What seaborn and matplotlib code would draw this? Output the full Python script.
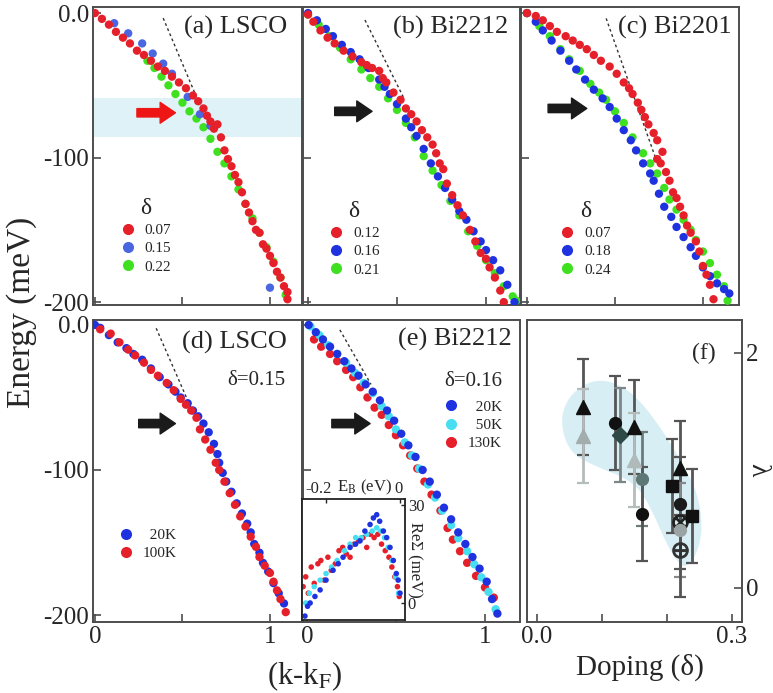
import numpy as np
import pandas as pd
import matplotlib
matplotlib.use("Agg")
import matplotlib.pyplot as plt
import seaborn as sns
from matplotlib.lines import Line2D
from matplotlib.patches import Polygon

# ------------------------------------------
# Data
# ------------------------------------------
# (a) LSCO, doping series
a_k_007 = [0.00, 0.04, 0.08, 0.12, 0.16, 0.20, 0.24, 0.28, 0.32, 0.36, 0.40, 0.44, 0.48, 0.52,
           0.56, 0.59, 0.62, 0.64, 0.66, 0.68, 0.70, 0.72, 0.74, 0.76, 0.78, 0.80, 0.82, 0.84,
           0.86, 0.88, 0.90, 0.92, 0.94, 0.96, 0.98, 1.00, 1.02, 1.04, 1.06, 1.08, 1.10, 1.10]
a_E_007 = [0, -4, -8, -13, -17, -21, -26, -29, -33, -37, -40, -44, -48, -52,
           -57, -61, -66, -71, -75, -80, -77, -86, -95, -101, -106, -112, -117, -124,
           -132, -138, -144, -150, -152, -160, -163, -168, -173, -179, -183, -189, -193, -198]
a_k_015 = [0.11, 0.19, 0.27, 0.33, 0.39, 0.44, 0.53, 0.60, 0.66, 1.00]
a_E_015 = [-7, -14, -21, -28, -35, -42, -58, -70, -78, -190]
a_k_022 = [0.30, 0.34, 0.38, 0.42, 0.46, 0.50, 0.54, 0.58, 0.62, 0.66, 0.70, 0.74, 0.78, 0.82,
           0.86, 0.90, 0.94, 0.98, 1.02, 1.06, 1.09]
a_E_022 = [-33, -38, -44, -50, -56, -62, -68, -73, -79, -87, -96, -104, -113, -122,
           -132, -142, -152, -162, -172, -183, -195]
a_dash_k = [0.39, 0.58]
a_dash_E = [-3.5, -58]
a_arrow_k = [0.24, 0.46]
a_arrow_E = -69
a_band_E = [-86, -59]

# (b) Bi2212, doping series
b_k_012 = [0.00, 0.03, 0.07, 0.11, 0.15, 0.20, 0.25, 0.30, 0.33, 0.36, 0.40, 0.42, 0.44, 0.48,
           0.52, 0.55, 0.58, 0.61, 0.64, 0.67, 0.70, 0.72, 0.74, 0.76, 0.78, 0.81, 0.84, 0.87,
           0.91, 0.94, 0.97, 1.00, 1.02, 1.05, 1.08, 1.10]
b_E_012 = [-1, -6, -12, -17, -21, -26, -30, -34, -36, -38, -40, -45, -48, -55,
           -60, -66, -70, -75, -81, -86, -91, -97, -104, -108, -118, -126, -133, -140,
           -150, -158, -166, -170, -176, -183, -192, -200]
b_k_016 = [0.00, 0.05, 0.10, 0.14, 0.19, 0.24, 0.29, 0.34, 0.40, 0.43, 0.46, 0.50, 0.55, 0.58,
           0.61, 0.65, 0.69, 0.73, 0.77, 0.81, 0.85, 0.89, 0.93, 0.97, 1.00, 1.04, 1.08, 1.12, 1.16]
b_E_016 = [0, -5, -11, -16, -22, -27, -32, -38, -46, -51, -56, -63, -73, -79,
           -85, -94, -104, -113, -121, -129, -137, -143, -151, -158, -164, -171, -178, -188, -200]
b_k_021 = [0.00, 0.06, 0.12, 0.18, 0.24, 0.30, 0.35, 0.40, 0.45, 0.50, 0.55, 0.60, 0.65, 0.70,
           0.75, 0.80, 0.85, 0.90, 0.95, 1.00, 1.05, 1.10, 1.15, 1.17]
b_E_021 = [-1, -8, -16, -24, -32, -39, -45, -51, -59, -67, -76, -86, -99, -109,
           -119, -130, -140, -151, -161, -171, -180, -189, -196, -199]
b_dash_k = [0.32, 0.535]
b_dash_E = [-4.8, -58]
b_arrow_k = [0.15, 0.36]
b_arrow_E = -68

# (c) Bi2201, doping series
c_k_007 = [0.00, 0.05, 0.09, 0.13, 0.17, 0.22, 0.26, 0.30, 0.34, 0.38, 0.42, 0.47, 0.51, 0.55,
           0.58, 0.60, 0.63, 0.65, 0.67, 0.69, 0.72, 0.74, 0.77, 0.74, 0.76, 0.79, 0.81, 0.83,
           0.85, 0.87, 0.89, 0.91, 0.93, 0.96, 0.98, 1.00, 1.02, 1.04, 1.06]
c_E_007 = [0, -2, -5, -9, -13, -16, -19, -22, -25, -29, -33, -37, -42, -48,
           -52, -56, -62, -67, -72, -77, -83, -88, -96, -101, -104, -110, -116, -124,
           -128, -134, -140, -147, -152, -158, -165, -175, -181, -188, -198]
c_k_018 = [0.00, 0.05, 0.09, 0.14, 0.19, 0.24, 0.28, 0.33, 0.38, 0.43, 0.47, 0.51, 0.55, 0.59,
           0.62, 0.66, 0.70, 0.72, 0.75, 0.78, 0.82, 0.85, 0.89, 0.93, 0.96, 1.00, 1.04, 1.08,
           1.12, 1.15]
c_E_018 = [0, -6, -12, -19, -26, -33, -39, -46, -53, -59, -65, -73, -81, -88,
           -95, -104, -111, -116, -125, -134, -141, -148, -155, -162, -168, -176, -182, -187,
           -191, -194]
c_k_024 = [0.00, 0.07, 0.13, 0.19, 0.24, 0.30, 0.36, 0.41, 0.45, 0.50, 0.55, 0.60, 0.66, 0.70,
           0.74, 0.78, 0.81, 0.85, 0.89, 0.93, 0.96, 1.00, 1.04, 1.08, 1.12, 1.14]
c_E_024 = [0, -9, -16, -25, -32, -40, -49, -55, -60, -68, -76, -86, -97, -104,
           -111, -121, -129, -136, -143, -150, -157, -165, -173, -181, -189, -199]
c_dash_k = [0.45, 0.73]
c_dash_E = [-3.7, -100]
c_arrow_k = [0.12, 0.34]
c_arrow_E = -66

# (d) LSCO delta=0.15, temperature series
d_k_20 = [0.00, 0.03, 0.08, 0.13, 0.18, 0.22, 0.27, 0.32, 0.37, 0.42, 0.46, 0.49, 0.53, 0.56,
          0.59, 0.62, 0.65, 0.68, 0.70, 0.71, 0.73, 0.75, 0.78, 0.81, 0.84, 0.87, 0.89, 0.91,
          0.94, 0.96, 0.99, 1.02, 1.05, 1.08]
d_E_20 = [0, -2, -7, -12, -16, -20, -24, -30, -36, -41, -46, -50, -54, -59,
          -63, -68, -74, -82, -89, -95, -102, -108, -115, -123, -130, -137, -143, -151,
          -157, -164, -170, -178, -185, -192]
d_k_100 = [0.03, 0.09, 0.14, 0.19, 0.23, 0.28, 0.32, 0.36, 0.41, 0.45, 0.49, 0.52, 0.55, 0.58,
           0.60, 0.63, 0.66, 0.69, 0.71, 0.74, 0.77, 0.80, 0.83, 0.86, 0.89, 0.92, 0.94, 0.97,
           1.00, 1.02, 1.04, 1.06, 1.09]
d_E_100 = [-3, -6, -12, -17, -21, -26, -31, -35, -40, -45, -51, -55, -59, -64,
           -72, -79, -86, -95, -100, -108, -116, -124, -132, -139, -146, -153, -160, -166,
           -171, -177, -183, -189, -198]
d_dash_k = [0.35, 0.55]
d_dash_E = [-2.3, -57.5]
d_arrow_k = [0.25, 0.46]
d_arrow_E = -68

# (e) Bi2212 delta=0.16, temperature series
e_k_20 = [0.01, 0.05, 0.09, 0.13, 0.17, 0.21, 0.25, 0.29, 0.33, 0.37, 0.41, 0.45, 0.49, 0.53,
          0.57, 0.61, 0.65, 0.69, 0.73, 0.77, 0.81, 0.85, 0.89, 0.93, 0.97, 1.01, 1.04, 1.07]
e_E_20 = [0, -5, -10, -15, -20, -25, -30, -35, -41, -46, -52, -59, -66, -75,
          -83, -91, -100, -108, -117, -126, -134, -143, -151, -160, -168, -177, -189, -199]
e_k_50 = [0.02, 0.07, 0.12, 0.17, 0.22, 0.27, 0.32, 0.37, 0.42, 0.46, 0.50, 0.55, 0.59, 0.63,
          0.68, 0.72, 0.76, 0.81, 0.85, 0.90, 0.94, 0.98, 1.02, 1.06]
e_E_50 = [-1, -7, -14, -20, -26, -33, -40, -47, -56, -63, -72, -81, -90, -99,
          -110, -119, -128, -138, -147, -156, -165, -174, -184, -196]
e_k_130 = [0.04, 0.08, 0.13, 0.17, 0.22, 0.26, 0.30, 0.34, 0.38, 0.42, 0.46, 0.50, 0.54, 0.58,
           0.62, 0.66, 0.70, 0.75, 0.79, 0.82, 0.86, 0.90, 0.95, 1.00, 1.05]
e_E_130 = [-10, -15, -20, -25, -31, -36, -43, -50, -57, -62, -69, -76, -83, -90,
           -99, -108, -117, -128, -140, -148, -156, -164, -173, -181, -188]
e_dash_k = [0.185, 0.36]
e_dash_E = [-3.4, -41]
e_arrow_k = [0.14, 0.355]
e_arrow_E = -68

# (e) inset: Re Sigma vs binding energy
in_E_20 = [-0.257, -0.250, -0.243, -0.230, -0.216, -0.200, -0.181, -0.167, -0.154, -0.135,
           -0.120, -0.108, -0.095, -0.081, -0.072, -0.063, -0.055, -0.045, -0.036, -0.027,
           -0.018, -0.010, -0.005, 0.000]
in_S_20 = [-4, -1, 0, 2, 4, 7, 10, 12, 14, 17, 18, 19, 22, 24, 26, 27, 25, 22, 20, 17, 13, 9, 7, 3]
in_E_50 = [-0.255, -0.245, -0.232, -0.216, -0.200, -0.185, -0.170, -0.150, -0.135, -0.120,
           -0.105, -0.090, -0.075, -0.063, -0.052, -0.042, -0.032, -0.022, -0.012, -0.004]
in_S_50 = [0, 3, 5, 7, 9, 11, 13, 16, 18, 20, 20, 21, 22, 23, 22, 20, 17, 13, 8, 3]
in_E_130 = [-0.262, -0.255, -0.248, -0.240, -0.232, -0.222, -0.214, -0.205, -0.195, -0.186,
            -0.175, -0.165, -0.155, -0.145, -0.135, -0.124, -0.112, -0.100, -0.090, -0.080,
            -0.070, -0.060, -0.050, -0.040, -0.030, -0.022, -0.014, -0.007, -0.002]
in_S_130 = [5, 8, 3, 11, 6, 12, 13, 7, 14, 10, 12, 16, 17, 15, 14, 18, 19, 20, 17, 21,
            20, 21, 18, 16, 14, 11, 8, 5, 2]

# (f) coupling constant vs doping
f_delta = [0.070, 0.070, 0.120, 0.128, 0.150, 0.150, 0.161, 0.161, 0.208, 0.220, 0.220,
           0.220, 0.220, 0.220, 0.238]
f_lam = [1.54, 1.29, 1.40, 1.30, 1.37, 1.09, 0.93, 0.63, 0.87, 1.02, 0.71, 0.56, 0.49, 0.32, 0.61]
f_err = [0.41, 0.40, 0.40, 0.40, 0.40, 0.40, 0.40, 0.40, 0.40, 0.40, 0.40, 0.40, 0.40, 0.40, 0.40]
f_marker = ['^', '^', 'o', 'D', '^', '^', 'o', 'o', 's', '^', 'o', r'$\otimes$', 'o', r'$\oplus$', 's']
f_color = ['#111111', '#a3adad', '#111111', '#2f4a46', '#111111', '#b0baba', '#5d7676', '#111111',
           '#111111', '#111111', '#1a1a1a', '#222222', '#9aa4a4', '#333333', '#111111']
f_barcolor = ['#555555', '#b5bcbc', '#555555', '#7d8686', '#555555', '#b5bcbc', '#6f7a7a',
              '#555555', '#555555', '#555555', '#555555', '#555555', '#888888', '#555555', '#555555']
f_blob_d = [0.035, 0.05, 0.092, 0.14, 0.18, 0.22, 0.25, 0.255, 0.23, 0.205, 0.17, 0.143, 0.092, 0.05]
f_blob_l = [1.42, 1.65, 1.79, 1.70, 1.45, 1.10, 0.78, 0.40, 0.14, 0.30, 0.75, 0.92, 1.03, 1.15]

RED = '#e5202a'
BLUE = '#1e32e0'
GREEN = '#3ee020'
CYAN = '#46def0'
SPINE = '#4d4d4d'

# ------------------------------------------
# Style
# ------------------------------------------
sns.set_theme(style="ticks")
plt.rcParams['font.family'] = ['Liberation Serif', 'DejaVu Serif']
plt.rcParams['mathtext.fontset'] = 'stix'

W, H = 773, 693
fig = plt.figure(figsize=(W / 100, H / 100), dpi=100)


def px_axes(l, r, t, b):
    return fig.add_axes([l / W, 1 - b / H, (r - l) / W, (b - t) / H])


def series_frame(pairs):
    rows = []
    for name, ks, es in pairs:
        rows.append(pd.DataFrame({'k': ks, 'E': es, 'grp': name}))
    return pd.concat(rows, ignore_index=True)


def style_disp(ax, xlim, ylim, xlabels=False, ylabels=False):
    ax.set_xlim(xlim)
    ax.set_ylim(ylim)
    for s in ax.spines.values():
        s.set_visible(True)
        s.set_color(SPINE)
        s.set_linewidth(1.4)
    ax.set_xticks([0, 0.5, 1])
    ax.set_xticklabels(['0', '', '1'] if xlabels else [])
    ax.set_yticks([0, -100, -200])
    ax.set_yticklabels(['0.0', '-100', '-200'] if ylabels else [])
    ax.tick_params(direction='in', length=6, width=1.2, color=SPINE, labelsize=18, pad=3,
                   top=False, right=False)
    ax.set_xlabel('')
    ax.set_ylabel('')


def draw_disp(ax, pairs, palette):
    df = series_frame(pairs)
    sns.scatterplot(data=df, x='k', y='E', hue='grp', palette=palette, s=36,
                    linewidth=0, ax=ax, legend=False, zorder=3)


def arrow(ax, ks, e, color='k'):
    ax.annotate('', xy=(ks[1], e), xytext=(ks[0], e),
                arrowprops=dict(arrowstyle='simple,head_width=0.75,head_length=0.55,tail_width=0.3',
                                color=color, mutation_scale=20, shrinkA=0, shrinkB=0), zorder=4)


def dashed(ax, ks, es):
    ax.plot(ks, es, color='#333333', lw=1.0, ls=(0, (2, 2)), zorder=2)


def dot_legend(ax, colors, labels, anchor, title=None):
    hs = [Line2D([], [], ls='', marker='o', ms=8, mfc=c, mec='none', label=l)
          for c, l in zip(colors, labels)]
    leg = ax.legend(handles=hs, title=title, loc='upper left', bbox_to_anchor=anchor,
                    frameon=False, fontsize=11, title_fontsize=17, handletextpad=0.6,
                    labelspacing=0.3, borderaxespad=0, handlelength=1.0)
    return leg


top_ylim = (-202, 4.2)
bot_ylim = (-204.8, 3.4)

# ------------------------------------------
# (a) LSCO
# ------------------------------------------
ax_a = px_axes(93, 302, 7, 305)
ax_a.axhspan(a_band_E[0], a_band_E[1], color='#dff2f8', zorder=0, lw=0)
draw_disp(ax_a, [('0.22', a_k_022, a_E_022), ('0.15', a_k_015, a_E_015), ('0.07', a_k_007, a_E_007)],
          {'0.07': RED, '0.15': '#4a66e0', '0.22': GREEN})
dashed(ax_a, a_dash_k, a_dash_E)
arrow(ax_a, a_arrow_k, a_arrow_E, color='#ee1515')
style_disp(ax_a, (-0.011, 1.183), top_ylim, ylabels=True)
ax_a.text(0.928, 0.933, '(a) LSCO', transform=ax_a.transAxes, ha='right', va='center', fontsize=19)
dot_legend(ax_a, [RED, '#4a66e0', GREEN], ['0.07', '0.15', '0.22'], (0.10, 0.38), title='δ')

# ------------------------------------------
# (b) Bi2212
# ------------------------------------------
ax_b = px_axes(303, 520, 7, 305)
draw_disp(ax_b, [('0.21', b_k_021, b_E_021), ('0.16', b_k_016, b_E_016), ('0.12', b_k_012, b_E_012)],
          {'0.12': RED, '0.16': BLUE, '0.21': GREEN})
dashed(ax_b, b_dash_k, b_dash_E)
arrow(ax_b, b_arrow_k, b_arrow_E)
style_disp(ax_b, (-0.028, 1.191), top_ylim)
ax_b.text(0.945, 0.933, '(b) Bi2212', transform=ax_b.transAxes, ha='right', va='center', fontsize=19)
dot_legend(ax_b, [RED, BLUE, GREEN], ['0.12', '0.16', '0.21'], (0.09, 0.37), title='δ')

# ------------------------------------------
# (c) Bi2201
# ------------------------------------------
ax_c = px_axes(521, 739, 7, 305)
draw_disp(ax_c, [('0.24', c_k_024, c_E_024), ('0.18', c_k_018, c_E_018), ('0.07', c_k_007, c_E_007)],
          {'0.07': RED, '0.18': BLUE, '0.24': GREEN})
dashed(ax_c, c_dash_k, c_dash_E)
arrow(ax_c, c_arrow_k, c_arrow_E)
style_disp(ax_c, (-0.034, 1.205), top_ylim)
ax_c.text(0.968, 0.933, '(c) Bi2201', transform=ax_c.transAxes, ha='right', va='center', fontsize=19)
dot_legend(ax_c, [RED, BLUE, GREEN], ['0.07', '0.18', '0.24'], (0.15, 0.37), title='δ')

# ------------------------------------------
# (d) LSCO temperature
# ------------------------------------------
ax_d = px_axes(93, 302, 320, 622)
draw_disp(ax_d, [('20K', d_k_20, d_E_20), ('100K', d_k_100, d_E_100)],
          {'20K': BLUE, '100K': RED})
dashed(ax_d, d_dash_k, d_dash_E)
arrow(ax_d, d_arrow_k, d_arrow_E)
style_disp(ax_d, (-0.011, 1.183), bot_ylim, xlabels=True, ylabels=True)
ax_d.text(0.928, 0.924, '(d) LSCO', transform=ax_d.transAxes, ha='right', va='center', fontsize=19)
ax_d.text(0.919, 0.80, 'δ=0.15', transform=ax_d.transAxes, ha='right', va='center', fontsize=15)
dot_legend(ax_d, [BLUE, RED], ['  20K', '100K'], (0.09, 0.33))

# ------------------------------------------
# (e) Bi2212 temperature
# ------------------------------------------
ax_e = px_axes(303, 520, 320, 622)
draw_disp(ax_e, [('130K', e_k_130, e_E_130), ('50K', e_k_50, e_E_50), ('20K', e_k_20, e_E_20)],
          {'20K': BLUE, '50K': CYAN, '130K': RED})
dashed(ax_e, e_dash_k, e_dash_E)
arrow(ax_e, e_arrow_k, e_arrow_E)
style_disp(ax_e, (-0.022, 1.197), bot_ylim, xlabels=True)
ax_e.text(0.963, 0.934, '(e) Bi2212', transform=ax_e.transAxes, ha='right', va='center', fontsize=19)
ax_e.text(0.917, 0.795, 'δ=0.16', transform=ax_e.transAxes, ha='right', va='center', fontsize=15)
dot_legend(ax_e, [BLUE, CYAN, RED], ['  20K', '  50K', '130K'], (0.62, 0.755))

# inset
ax_in = px_axes(302, 405, 499, 620)
ax_in.set_facecolor('white')
df_in = pd.concat([pd.DataFrame({'E': in_E_130, 'S': in_S_130, 'T': '130K'}),
                   pd.DataFrame({'E': in_E_50, 'S': in_S_50, 'T': '50K'}),
                   pd.DataFrame({'E': in_E_20, 'S': in_S_20, 'T': '20K'})], ignore_index=True)
sns.scatterplot(data=df_in, x='E', y='S', hue='T', palette={'20K': BLUE, '50K': CYAN, '130K': RED},
                s=16, linewidth=0, ax=ax_in, legend=False)
ax_in.set_xlim(-0.265, 0.0135)
ax_in.set_ylim(-5.2, 31.8)
for s in ax_in.spines.values():
    s.set_visible(True)
    s.set_color('#222222')
    s.set_linewidth(1.3)
ax_in.xaxis.tick_top()
ax_in.yaxis.tick_right()
ax_in.set_xticks([-0.2, 0])
ax_in.set_xticklabels([])
ax_in.set_yticks([0, 30])
ax_in.set_yticklabels(['0', '30'])
ax_in.tick_params(direction='in', length=3, width=1, labelsize=12, pad=2)
ax_in.set_xlabel('')
ax_in.set_ylabel('')
ax_in.text(0.16, 1.02, '-0.2', transform=ax_in.transAxes, ha='center', va='bottom', fontsize=12)
ax_in.text(0.61, 1.02, r'E$_\mathrm{B}$ (eV)', transform=ax_in.transAxes, ha='center', va='bottom',
           fontsize=12)
ax_in.text(0.94, 1.02, '0', transform=ax_in.transAxes, ha='center', va='bottom', fontsize=12)
ax_in.text(1.09, 0.5, 'ReΣ (meV)', transform=ax_in.transAxes, ha='center', va='center',
           rotation=270, fontsize=12)

# ------------------------------------------
# (f) lambda vs doping
# ------------------------------------------
ax_f = px_axes(527, 742, 320, 622)
bd = np.array(f_blob_d)
bl = np.array(f_blob_l)
pts = np.column_stack([bd, bl])
for _ in range(4):  # smooth the outline (Chaikin)
    nxt = np.roll(pts, -1, axis=0)
    pts = np.vstack([0.75 * pts + 0.25 * nxt, 0.25 * pts + 0.75 * nxt])
    order = np.arange(len(pts)).reshape(2, -1).T.ravel()
    pts = pts[order]
ax_f.add_patch(Polygon(pts, closed=True, facecolor='#d7eef5', edgecolor='none', zorder=0))
for d, l, e, m, c, bc in zip(f_delta, f_lam, f_err, f_marker, f_color, f_barcolor):
    ax_f.errorbar(d, l, yerr=e, fmt='none', ecolor=bc, elinewidth=2, capsize=4, capthick=1.6, zorder=2)
    ms = 11 if m.startswith('$') else (8.5 if m in ('o', 'D', 's') else 9.5)
    ax_f.plot(d, l, marker=m, color=c, ms=ms, ls='', zorder=3)
ax_f.set_xlim(-0.0154, 0.3154)
ax_f.set_ylim(-0.29, 2.28)
for s in ax_f.spines.values():
    s.set_visible(True)
    s.set_color(SPINE)
    s.set_linewidth(1.4)
ax_f.set_xticks([0, 0.1, 0.2, 0.3])
ax_f.set_xticklabels(['0.0', '', '', '0.3'])
ax_f.yaxis.tick_right()
ax_f.set_yticks([0, 2])
ax_f.set_yticklabels(['0', '2'])
ax_f.tick_params(direction='in', length=6, width=1.2, color=SPINE, labelsize=18, pad=3,
                 left=False)
ax_f.text(0.823, 0.89, '(f)', transform=ax_f.transAxes, ha='center', va='center', fontsize=17)

# ------------------------------------------
# Shared labels
# ------------------------------------------
fig.text(22 / W, 1 - 312 / H, 'Energy (meV)', rotation=90, ha='center', va='center', fontsize=24)
fig.text(305 / W, 1 - 676 / H, r'(k-k$_\mathrm{F}$)', ha='center', va='center', fontsize=22)
fig.text(640 / W, 1 - 667 / H, 'Doping (δ)', ha='center', va='center', fontsize=21)
fig.text(758 / W, 1 - 470 / H, 'λ', rotation=270, ha='center', va='center', fontsize=20)

fig.savefig('out.png', dpi=100, facecolor='white')
